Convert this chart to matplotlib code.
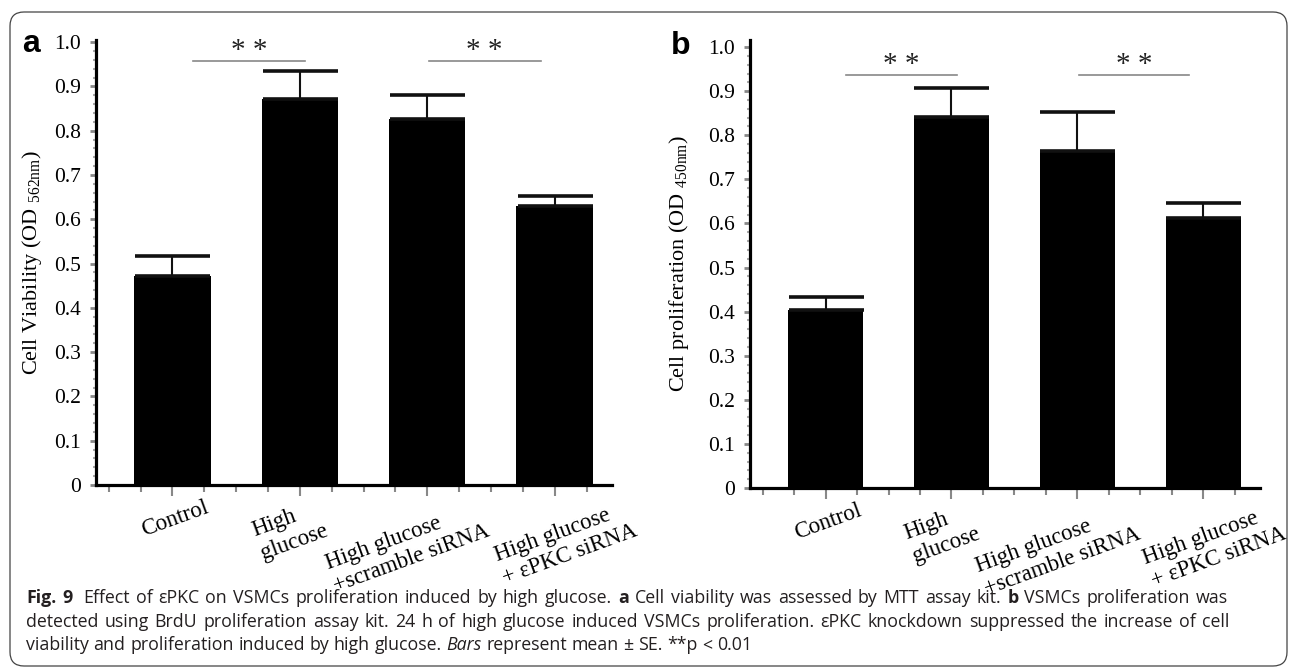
import re
import numpy as np
import matplotlib
matplotlib.use('Agg')
import matplotlib.pyplot as plt
from matplotlib.patches import FancyBboxPatch
from matplotlib.transforms import IdentityTransform, ScaledTranslation
from matplotlib.ticker import MultipleLocator, FixedLocator

plt.rcParams['font.family'] = 'Liberation Serif'
plt.rcParams['mathtext.fontset'] = 'custom'
plt.rcParams['mathtext.rm'] = 'Liberation Serif'
plt.rcParams['mathtext.it'] = 'Liberation Serif:italic'

# data
groups = ['Control', 'High\nglucose', 'High glucose\n+scramble siRNA', 'High glucose\n+ εPKC siRNA']
viability_mean = [0.472, 0.871, 0.826, 0.631]
viability_se = [0.045, 0.064, 0.055, 0.021]
prolif_mean = [0.404, 0.842, 0.765, 0.612]
prolif_se = [0.030, 0.065, 0.088, 0.034]
sig_pairs = [(0, 1), (2, 3)]
viability_sig_y = 0.958
prolif_sig_y = 0.937

# layout nudges (points): significance lines and the rotated group labels
sig_shift = [0.1, -0.05]
label_dx = [2, -7, -14, 8]

W, H = 1290, 667
fig = plt.figure(figsize=(W / 100, H / 100), dpi=100)


def bar_panel(rect, means, errs, ylabel, sig_y, ytop, label_x, letter, letter_xy):
    """one bar chart with se bars and significance lines"""
    ax = fig.add_axes(rect)
    x = np.arange(len(groups))
    ax.bar(x, means, width=0.6, color='black', zorder=2)
    ax.errorbar(x, means, yerr=[np.zeros(len(errs)), errs], fmt='none', ecolor='#111111',
                elinewidth=1.5, capsize=27, capthick=2.6, zorder=3)
    ax.set_xlim(-0.6, 3.45)
    ax.set_ylim(0, ytop)
    for s in ['top', 'right']:
        ax.spines[s].set_visible(False)
    for s in ['left', 'bottom']:
        ax.spines[s].set_linewidth(2.3)
        ax.spines[s].set_color('black')
        ax.spines[s].set_zorder(4)

    yt = np.round(np.arange(0, 1.01, 0.1), 1)
    ax.set_yticks(yt)
    ax.set_yticklabels(['0' if v == 0 else f'{v:.1f}' for v in yt])
    ax.yaxis.set_minor_locator(MultipleLocator(0.02))
    ax.set_xticks(x)
    ax.set_xticklabels([])
    minor = [v for v in np.arange(-0.5, 3.3, 0.25) if abs(v - round(v)) > 0.01]
    ax.xaxis.set_minor_locator(FixedLocator(minor))

    ax.tick_params(axis='y', which='major', length=4, width=2, color='#888888', labelsize=15.5, pad=7)
    ax.tick_params(axis='y', which='minor', length=2, width=1.5, color='#aaaaaa')
    ax.tick_params(axis='x', which='major', length=8, width=1.5, color='#888888')
    ax.tick_params(axis='x', which='minor', length=5, width=1.5, color='#888888')

    # rotated group names under the axis
    for i, g in enumerate(groups):
        off = ScaledTranslation(label_dx[i] / 72, -9 / 72, fig.dpi_scale_trans)
        ax.text(i, 0, g, transform=ax.get_xaxis_transform() + off, rotation=20,
                ha='center', va='top', multialignment='left', linespacing=1.2, fontsize=16.5)

    ax.set_ylabel(ylabel, fontsize=16)
    ax.yaxis.set_label_coords(label_x, 0.5)

    for (i, j), sh in zip(sig_pairs, sig_shift):
        c = (i + j) / 2 + sh
        ax.plot([c - 0.44, c + 0.44], [sig_y, sig_y], color='#888888', lw=1.2, clip_on=False)
        ax.text(c, sig_y + 0.006, '* *', ha='center', va='baseline', fontsize=21, color='#222222')

    fig.text(letter_xy[0] / W, 1 - letter_xy[1] / H, letter, family='Liberation Sans',
             fontweight='bold', fontsize=23, ha='left', va='center')
    return ax


bar_panel([96 / W, 1 - 485 / H, 516 / W, 445 / H], viability_mean, viability_se,
          r'Cell Viability (OD $_{\mathrm{562nm}}$)', viability_sig_y, 1.005, -0.1, 'a', (22, 44))
bar_panel([750 / W, 1 - 488 / H, 510 / W, 448 / H], prolif_mean, prolif_se,
          r'Cell proliferation (OD $_{\mathrm{450nm}}$)', prolif_sig_y, 1.016, -0.115, 'b', (671, 46))

# caption underneath, justified like the journal layout
renderer = fig.canvas.get_renderer()
cap_size = 12.8
cap_color = '#231f20'


def run_width(s, kw):
    t = fig.text(0, 0, s + '|', **kw)
    w1 = t.get_window_extent(renderer).width
    t.remove()
    t = fig.text(0, 0, '|', **kw)
    w2 = t.get_window_extent(renderer).width
    t.remove()
    return w1 - w2


def draw_line(runs, x_px, y_px, right_px=None):
    tokens = []
    for s, weight, style in runs:
        kw = dict(fontsize=cap_size, family='Open Sans', fontweight=weight, fontstyle=style, color=cap_color)
        for piece in re.split(r'( +)', s):
            if piece:
                tokens.append((piece, kw, run_width(piece, kw)))
    extra = 0
    if right_px is not None:
        gaps = sum(1 for p, _, _ in tokens if p.isspace())
        extra = (right_px - x_px - sum(w for _, _, w in tokens)) / gaps
    for p, kw, w in tokens:
        if p.isspace():
            x_px += w + extra
        else:
            fig.text(x_px / W, 1 - y_px / H, p, ha='left', va='center', **kw)
            x_px += w


caption = [
    [('Fig. 9', 'bold', 'normal'),
     ('  Effect of εPKC on VSMCs proliferation induced by high glucose. ', 'normal', 'normal'),
     ('a', 'bold', 'normal'),
     (' Cell viability was assessed by MTT assay kit. ', 'normal', 'normal'),
     ('b', 'bold', 'normal'),
     (' VSMCs proliferation was', 'normal', 'normal')],
    [('detected using BrdU proliferation assay kit. 24 h of high glucose induced VSMCs proliferation. '
      'εPKC knockdown suppressed the increase of cell', 'normal', 'normal')],
    [('viability and proliferation induced by high glucose. ', 'normal', 'normal'),
     ('Bars', 'normal', 'italic'),
     (' represent mean ± SE. **p < 0.01', 'normal', 'normal')],
]
draw_line(caption[0], 26, 598, 1228)
draw_line(caption[1], 26, 622, 1229)
draw_line(caption[2], 26, 645)

box = FancyBboxPatch((10, 1), 1277, 654, boxstyle='round,pad=0,rounding_size=14',
                     transform=IdentityTransform(), fill=False, edgecolor='#444444', lw=0.9)
fig.patches.append(box)

fig.savefig('out.png', dpi=100)
